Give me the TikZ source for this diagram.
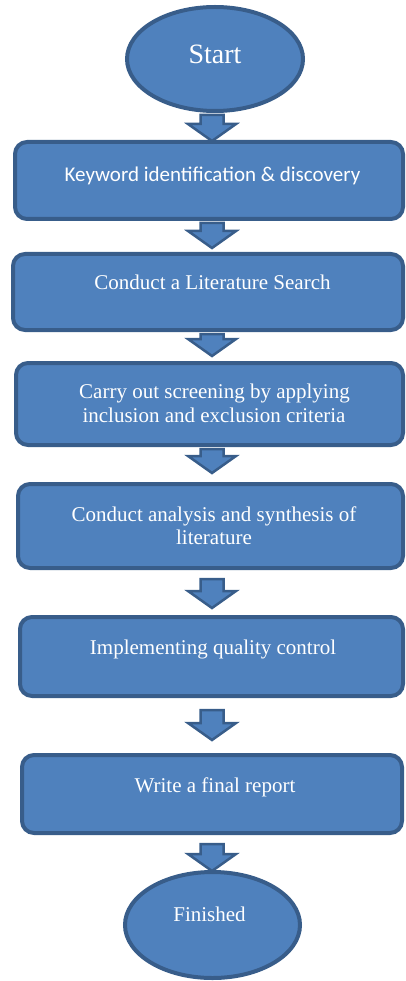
\documentclass[tikz,border=0pt]{standalone}
\usepackage{fontspec}
\setmainfont{Liberation Serif}
\newfontfamily\carl{Carlito}
\usetikzlibrary{shapes.geometric,calc}
\definecolor{boxfill}{HTML}{4F81BD}
\definecolor{boxline}{HTML}{385D8A}
\newcommand\blkarrow[4]{%
  \draw[barrow] let \p1=(#1.south), \p2=(#2.north) in
   (200.5pt,\y1-#3) -- (223.5pt,\y1-#3) -- (223.5pt,\y2-#4+17pt) -- (236pt,\y2-#4+17pt)
   -- (212pt,\y2-#4) -- (188pt,\y2-#4+17pt) -- (200.5pt,\y2-#4+17pt) -- cycle;}
\begin{document}
\begin{tikzpicture}[x=1pt,y=-1pt,
  stepbox/.style={draw=boxline,fill=boxfill,line width=4pt,rounded corners=12pt,inner sep=0pt},
  term/.style={draw=boxline,fill=boxfill,line width=4pt,ellipse,inner sep=0pt},
  txt/.style={text=white,inner sep=0pt,anchor=base,font=\fontsize{21}{24}\selectfont},
  barrow/.style={draw=boxline,fill=boxfill,line width=2.5pt,line join=miter}]
\useasboundingbox (0,0) rectangle (405,981);

\node[term,minimum width=176pt,minimum height=104pt] (start) at (215,59) {};
\node[stepbox,minimum width=388pt,minimum height=77pt] (b1) at (209,180.5) {};
\node[stepbox,minimum width=390pt,minimum height=76pt] (b2) at (208,292) {};
\node[stepbox,minimum width=387pt,minimum height=82pt] (b3) at (209.5,404) {};
\node[stepbox,minimum width=385pt,minimum height=84pt] (b4) at (210.5,526) {};
\node[stepbox,minimum width=383pt,minimum height=79pt] (b5) at (211.5,656.5) {};
\node[stepbox,minimum width=380pt,minimum height=78pt] (b6) at (212,794) {};
\node[term,minimum width=175pt,minimum height=106pt] (fin) at (212.5,925) {};

\node[txt,font=\fontsize{28}{30}\selectfont] (tstart) at (215,64) {Start};
\node[txt,font=\carl\fontsize{21}{24}\selectfont] (t1) at (212.5,182) {Keyword identification \& discovery};
\node[txt] (t2) at (212.5,289) {Conduct a Literature Search};
\node[txt] (t3a) at (214.5,398) {Carry out screening by applying};
\node[txt] (t3b) at (214,422) {inclusion and exclusion criteria};
\node[txt] (t4a) at (214,521) {Conduct analysis and synthesis of};
\node[txt] (t4b) at (214,544) {literature};
\node[txt] (t5) at (213,654) {Implementing quality control};
\node[txt] (t6) at (215,792) {Write a final report};
\node[txt] (tfin) at (209.5,921) {Finished};

\blkarrow{start}{b1}{2pt}{1pt}
\blkarrow{b1}{b2}{2pt}{-4pt}
\blkarrow{b2}{b3}{2pt}{-5pt}
\blkarrow{b3}{b4}{2pt}{-9pt}
\blkarrow{b4}{b5}{9pt}{-7pt}
\blkarrow{b5}{b6}{12pt}{-13pt}
\blkarrow{b6}{fin}{9pt}{1pt}
\end{tikzpicture}
\end{document}
